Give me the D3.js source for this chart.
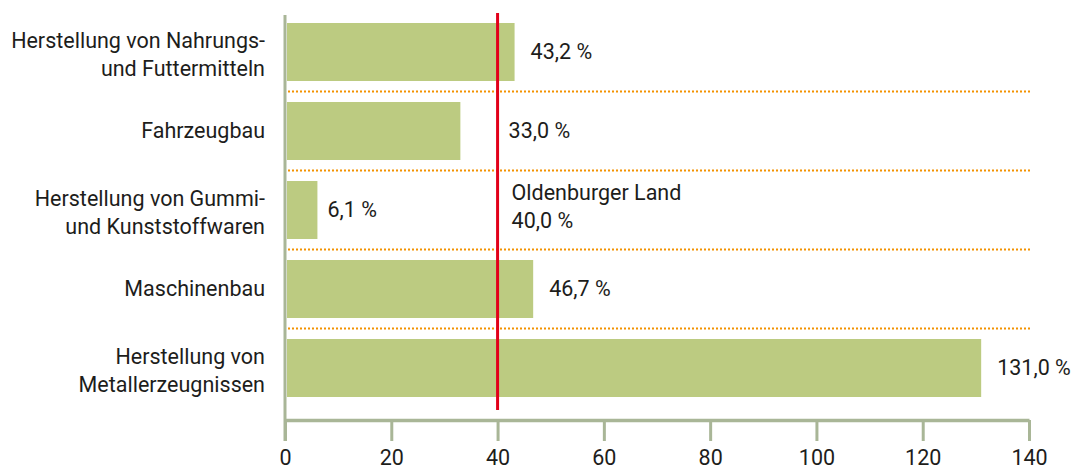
<!DOCTYPE html>
<html><head><meta charset="utf-8">
<script src="https://cdn.jsdelivr.net/npm/d3@7"></script>
<style>
html,body{margin:0;padding:0;background:#fff;}
svg text{font-family:Roboto, "Noto Sans", sans-serif;fill:#1d1d1b;}
</style></head>
<body><svg id="c" width="1072" height="469"></svg>
<script>
const categories = [
  ["Herstellung von Nahrungs-", "und Futtermitteln"],
  ["Fahrzeugbau"],
  ["Herstellung von Gummi-", "und Kunststoffwaren"],
  ["Maschinenbau"],
  ["Herstellung von", "Metallerzeugnissen"]
];
const values = [43.2, 33.0, 6.1, 46.7, 131.0];
const valueLabels = ["43,2 %", "33,0 %", "6,1 %", "46,7 %", "131,0 %"];
const referenceValue = 40.0;
const referenceLabel = ["Oldenburger Land", "40,0 %"];
const xTicks = [0, 20, 40, 60, 80, 100, 120, 140];

const svg = d3.select("#c");
const x = d3.scaleLinear().domain([0, 140]).range([285, 1029]);
const y = d3.scaleBand().domain(d3.range(values.length)).range([12.5, 407.5])
  .paddingInner(21/79).paddingOuter(10.5/79);
const axisColor = "#a9b697";
const fs = 21.5;

// dotted separators
const sepY = d3.range(1, values.length).map(i => y(i) - (y.step() - y.bandwidth())/2);
svg.selectAll("line.sep").data(sepY).join("line")
  .attr("x1", 288).attr("x2", 1031).attr("y1", d => d).attr("y2", d => d)
  .attr("stroke", "#f39200").attr("stroke-width", 2).attr("stroke-dasharray", "2,2");

// bars
svg.selectAll("rect.bar").data(values).join("rect")
  .attr("x", x(0) + 2).attr("y", (d, i) => y(i))
  .attr("width", d => x(d) - x(0) - 2).attr("height", y.bandwidth())
  .attr("fill", "#bccb81");

// x axis
const ax = svg.append("g").attr("transform", "translate(0,420)")
  .call(d3.axisBottom(x).tickValues(xTicks).tickSize(21).tickSizeOuter(0).tickPadding(9));
ax.select(".domain").attr("stroke", axisColor).attr("stroke-width", 3.5);
ax.selectAll(".tick line").attr("stroke", axisColor).attr("stroke-width", 3);
ax.selectAll(".tick text").attr("font-size", fs).attr("font-family", "Roboto, sans-serif").attr("fill", "#1d1d1b");

// y axis line
svg.append("line").attr("x1", 285).attr("x2", 285).attr("y1", 15).attr("y2", 441)
  .attr("stroke", axisColor).attr("stroke-width", 3);

// reference line
svg.append("line").attr("x1", x(referenceValue)).attr("x2", x(referenceValue))
  .attr("y1", 13).attr("y2", 410).attr("stroke", "#e2001a").attr("stroke-width", 3);

// category labels
categories.forEach((lines, i) => {
  const c = y(i) + y.bandwidth()/2;
  const t = svg.append("text").attr("text-anchor", "end").attr("font-size", fs);
  const start = lines.length === 1 ? c + 7 : c - 4;
  lines.forEach((l, j) => t.append("tspan").attr("x", 265).attr("y", start + j*28).text(l));
});

// value labels
values.forEach((v, i) => {
  const c = y(i) + y.bandwidth()/2;
  let lx = x(v) + 16;
  if (v < referenceValue && x(v) + 70 > x(referenceValue)) lx = x(referenceValue) + 11;
  else if (v < referenceValue) lx = x(v) + 10;
  svg.append("text").attr("x", lx).attr("y", c + 7).attr("font-size", fs).text(valueLabels[i]);
});

// reference label
const rt = svg.append("text").attr("font-size", fs);
referenceLabel.forEach((l, j) => rt.append("tspan").attr("x", x(referenceValue) + 14).attr("y", 200 + j*28).text(l));
</script></body></html>
